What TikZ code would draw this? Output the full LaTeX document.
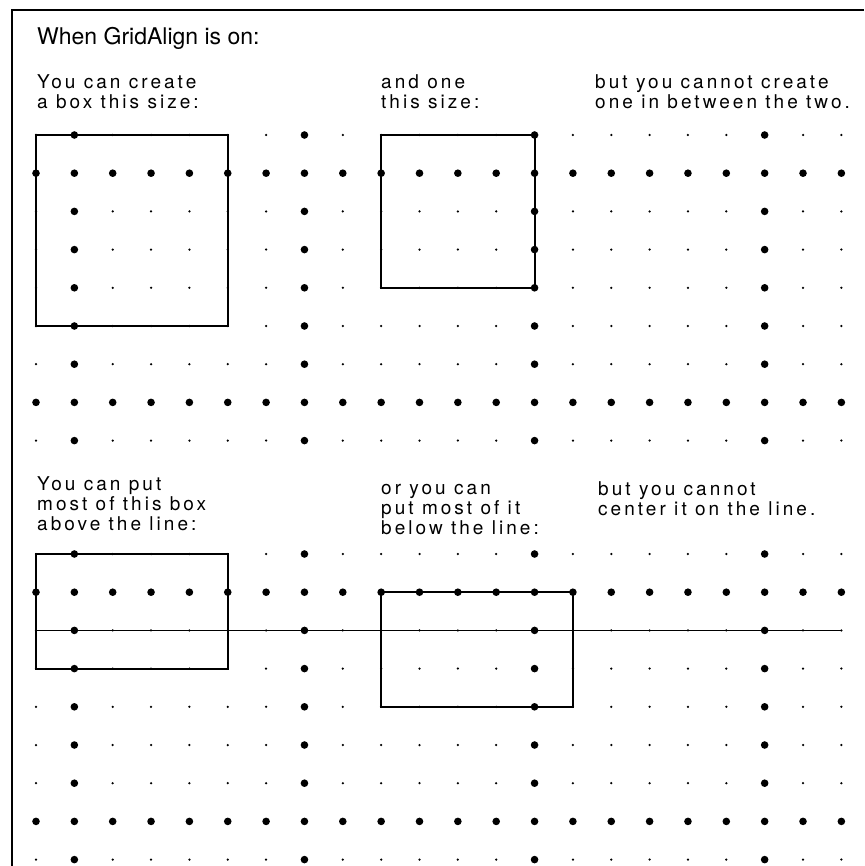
\documentclass[tikz,border=0pt]{standalone}
\usepackage{fontspec}
\setmainfont{TeX Gyre Heros}
\newfontfamily\notefont[LetterSpace=16]{TeX Gyre Heros}
\usetikzlibrary{positioning}
\tikzset{
  frame/.style={draw=black, line width=2pt},
  box/.style={draw=black, line width=1.9pt},
  baseline rule/.style={draw=black, line width=1.5pt},
  bigdot/.style={fill=black},
  smalldot/.style={fill=black},
  headline/.style={anchor=base west, inner sep=0pt, font=\fontsize{23}{23}\selectfont},
  note/.style={anchor=base west, inner sep=0pt, align=left, font=\notefont\fontsize{19}{20}\selectfont}
}
% one panel of grid dots: every 6th row/column is a big dot
\newcommand{\dotpanel}{%
  \foreach \r in {0,...,8} {
    \foreach \c in {0,...,21} {
      \pgfmathtruncatemacro\isbig{(\r==1)||(\r==7)||(mod(\c,6)==1)}
      \ifnum\isbig=1
        \fill[bigdot] (\c,\r) circle (3.8pt);
      \else
        \fill[smalldot] (\c,\r) circle (1.25pt);
      \fi
    }
  }}

\begin{document}
\begin{tikzpicture}[x=1pt, y=-1pt]
\useasboundingbox (0,0) rectangle (864,866);

\coordinate (corner) at (12,10);
\draw[frame] (12,866) -- (corner) -- (864,10);

\node[headline] (title) at (37,45) {When GridAlign is on:};

% the note's base is the baseline of its last line
\node[note] (sizeA) at (37,109) {You can create\\a box this size:};
\node[note] (sizeB) at (381,109) {and one\\this size:};
\node[note] (sizeC) at (595,109) {but you cannot create\\one in between the two.};

\node[note] (lineA) at (37,530) {You can put\\most of this box\\above the line:};
\node[note] (lineB) at (381,534) {or you can\\put most of it\\below the line:};
\node[note] (lineC) at (598,515) {but you cannot\\center it on the line.};

% upper panel: two box sizes
\begin{scope}[shift={(36,135)}, x=38.35pt, y=-38.2pt]
  \draw[box] (0,0) rectangle (5,5);
  \draw[box] (9,0) rectangle (13,4);
  \dotpanel
\end{scope}

% lower panel: boxes against the line
\begin{scope}[shift={(36,554)}, x=38.35pt, y=-38.2pt]
  \draw[baseline rule] (0,2) -- (21,2);
  \draw[box] (0,0) rectangle (5,3);
  \draw[box] (9,1) rectangle (14,4);
  \dotpanel
\end{scope}

\end{tikzpicture}
\end{document}
